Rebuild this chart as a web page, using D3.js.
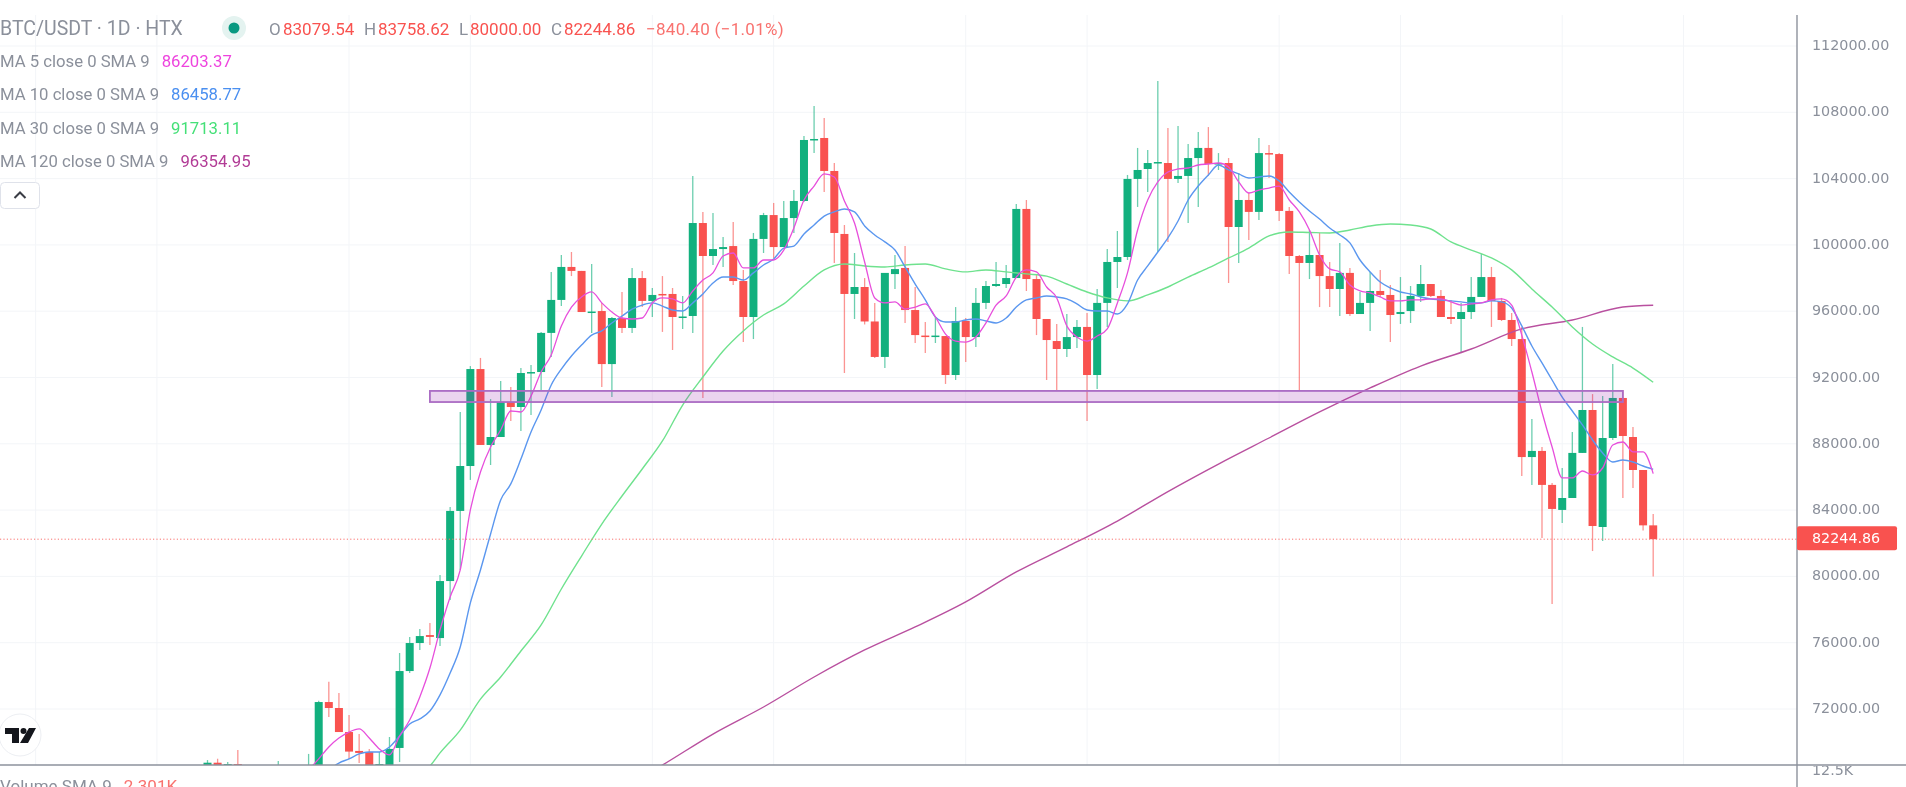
<!DOCTYPE html>
<html>
<head>
<meta charset="utf-8">
<title>BTC/USDT 1D</title>
<script src="https://cdn.jsdelivr.net/npm/d3@7/dist/d3.min.js"></script>
<style>
html, body { margin: 0; padding: 0; background: #fff; overflow: hidden; }
svg { display: block; filter: blur(0.6px); }
text { font-family: Roboto, sans-serif; }
.priceAxis text { font-family: "DejaVu Sans", sans-serif; font-size: 14.3px; fill: #8b909b; }
</style>
</head>
<body>
<div id="chart"></div>
<script>
// daily candles (the first few sit below the pane floor)
var opens = [
    68400,68760,68400,68680,67900,67900,67900,68100,67900,68000,
    68200,68550,72420,72060,70610,69470,69410,68400,68500,69650,
    74290,75980,76460,76280,79720,83950,86660,92510,87930,88410,
    90520,90220,92270,92330,94690,96680,98670,98430,95950,96010,
    92810,95590,94990,98000,96620,97040,97040,95650,95710,101320,
    99330,99750,99930,97820,95650,100360,101800,99870,101620,102650,
    106330,106450,104460,100660,97040,97460,95380,93240,98240,98610,
    96070,94530,94470,94500,92150,95410,94440,96500,97520,97640,
    98000,102170,97940,95530,94200,93720,94440,95050,92150,96500,
    98970,99270,103980,104580,104940,104940,103980,104160,105240,105850,
    104880,104940,101080,102710,101990,105540,105480,102050,99330,98910,
    99390,98120,97340,98310,95830,96500,97220,96980,95830,96010,
    96920,97640,96920,95650,95530,95950,96860,98060,96620,95470,
    94320,87200,87570,85520,84010,84730,87450,90040,82980,88350,
    90765,88410,86420,83079.54];
var closes = [
    68760,68400,68680,68400,67800,67800,67800,68400,68000,68100,
    68500,72420,72060,70610,69430,69350,68400,68680,69590,74290,
    75980,76400,76350,79720,83950,86660,92510,87930,88410,90520,
    90220,92270,92330,94690,96680,98670,98430,95950,95980,92810,
    95590,94990,98000,96620,96980,97000,95650,95680,101320,99330,
    99750,99870,97820,95650,100360,101800,99870,101620,102650,106330,
    106390,104460,100720,97040,97460,95380,93240,98310,98540,96070,
    94560,94470,94530,92150,95410,94440,96500,97520,97640,98000,
    102170,97940,95530,94260,93720,94440,95050,92150,96500,98970,
    99270,103980,104520,104940,105000,103980,104160,105240,105850,104880,
    104940,101080,102710,101990,105540,105480,102050,99330,98910,99390,
    98120,97340,98310,95830,96500,97220,96980,95770,95950,96920,
    97640,96920,95650,95530,95950,96860,98060,96620,95470,94320,
    87200,87570,85520,84070,84730,87450,90040,83040,88350,90765,
    88470,86420,83079.54,82244.86];
var highs = [
    68920,69000,68800,69530,68000,68000,68000,68860,68100,68200,
    69290,72500,73650,72970,71640,70490,69590,69410,70310,75380,
    76350,76830,77190,80090,84190,89920,92690,93180,90700,91790,
    91430,92570,92750,94750,98370,99390,99570,98430,98850,96500,
    95650,97160,98610,98430,97400,98120,97400,96920,104160,101990,
    101930,100480,101380,98490,100720,101930,102530,102650,103310,106570,
    108380,107660,104940,101200,99510,98000,96500,98310,99390,99930,
    97460,95350,95650,94500,96250,95590,97400,97820,98970,98790,
    102470,102710,98180,95530,95230,95830,95470,95890,97340,99750,
    100840,104220,105850,105730,109890,107050,107170,106090,106810,107110,
    105540,105240,104340,103130,106450,106030,105540,102290,99390,100900,
    100720,98970,100120,98610,97160,98370,98490,97580,98060,97520,
    98790,97640,97280,96670,96500,98060,99450,98670,96800,95890,
    95050,89500,87810,85640,86540,88710,95050,91000,90885,92815,
    91250,89010,86420,83758.62];
var lows = [
    68100,68200,68200,68200,67700,67700,67700,67900,67800,67900,
    68000,68400,71520,70610,68980,68740,68200,68200,68400,68800,
    74170,75560,75860,75800,78580,80390,85820,87930,86720,88410,
    89380,88770,89740,91250,93240,96310,98120,95950,94690,91430,
    90820,94690,94690,96250,95650,94750,93660,94930,94690,90760,
    98790,98670,97580,94140,94320,99510,99210,99870,100720,102590,
    105540,103190,98910,92270,95530,95200,93180,92570,97340,95290,
    94080,93480,94080,91610,91850,92940,93840,96130,97460,97400,
    98000,97220,94560,91850,91250,93240,93780,89380,91310,95050,
    97400,99090,102290,103190,99570,100180,103730,101320,102290,104160,
    104520,97700,98910,100300,101500,104040,101440,98240,91190,97940,
    96250,96250,95710,95710,95830,94810,96860,94140,95230,95290,
    96560,96860,95650,95230,93480,95530,96860,95050,95410,93900,
    86060,85520,82320,78340,83220,84730,87450,81530,82140,88230,
    84730,85335,82775,80000];

// moving averages: one value per candle from the start index on
var ma5Start = 10;
var ma5 = [
    68320,68990,69710,70250,70610,70800,70250,69590,69230,70370,
    71340,72730,74470,76770,78760,80390,84010,86300,87810,88830,
    89980,89920,90880,92330,93360,95110,96250,96860,97160,96500,
    95950,95590,95530,95590,96500,96800,96740,96500,97220,97880,
    98310,99330,99510,98610,98610,99090,99090,99690,101020,102710,
    103550,104280,104100,102650,101320,98970,96800,96500,96560,96130,
    96250,96440,95650,94620,94200,94140,94440,95290,96370,96920,
    98060,98490,98370,97460,96800,95110,94440,94200,94500,94930,
    96500,98310,100900,102710,103800,104400,104580,104640,104820,104880,
    104940,104700,103800,103130,103310,103430,103550,102710,101990,100900,
    99390,98550,98370,97580,97220,97100,96860,96620,96620,96680,
    96680,96740,96740,96560,96370,96440,96500,96680,96740,96370,
    94560,92330,89920,87810,85940,85940,86360,86120,86540,87930,
    88110,87510,87510,86203.37];
var ma10Start = 12;
var ma10 = [
    68320,68740,68990,69290,69410,69410,69710,70370,71100,71400,
    71880,72850,74170,75740,78400,80390,82560,84610,85580,87080,
    88710,90040,91550,92510,93300,93960,94560,94810,95290,95710,
    96130,96370,96500,96310,96070,96010,96500,97040,97700,98060,
    98060,97880,98310,98790,99150,99810,99930,100660,101200,101740,
    101990,102170,101990,101140,100600,100180,99690,98670,97640,96680,
    95650,95350,95350,95470,95530,95410,95290,95590,96250,96680,
    96800,96920,96860,96740,96440,96070,96010,96010,95830,96440,
    97880,98730,99570,100420,101440,102710,103550,104220,104820,104520,
    104280,104040,104100,104160,103860,103190,102590,102050,101560,101020,
    100600,100120,99090,98370,97760,97400,97160,97040,96860,96740,
    96680,96620,96560,96500,96500,96620,96560,96190,95110,93900,
    92880,91850,90820,89980,89140,88230,87450,86900,87020,86900,
    86660,86458.77];
var ma30Idx = [21,22,23,25,27,29,31,33,35,37,39,41,43,45,47,49,51,53,55,57,59,61,63,65,67,69,71,73,75,77,79,81,83,85,87,89,91,93,95,97,99,101,103,105,107,109,111,113,115,117,119,121,123,125,127,129,131,133,135,137,139,141,143];
var ma30 = [
    68020,68560,69350,70730,72600,73930,75500,77070,79240,81230,
    83160,84850,86480,88170,90340,92030,93600,94810,95770,96440,
    97520,98490,98850,98730,98670,98790,98850,98550,98370,98490,
    98370,98250,98120,97640,97160,96800,96620,96980,97460,98060,
    98610,99210,99810,100540,100780,100750,100720,100900,101140,101260,
    101200,100960,100180,99690,99210,98490,97340,96250,95050,94020,
    93240,92570,91713.11];
var ma120Idx = [44,45,50,55,60,65,70,75,80,85,90,95,100,105,110,115,120,125,130,135,140,143];
var ma120 = [
    68260,68620,70490,72120,73930,75560,76950,78460,80270,81780,
    83340,85120,86780,88350,89920,91370,92690,93720,94930,95470,
    96250,96354.95];

var priceTicks = [112000,108000,104000,100000,96000,92000,88000,84000,80000,76000,72000];
var gridDays = [-17,-5,14,26,44,56,75,87,106,118,134,146];
var zoneLow = 90520, zoneHigh = 91190, zoneFrom = 22, zoneTo = 140;
var lastPrice = 82244.86;

var legendRows = [
    {label: "MA 5 close 0 SMA 9", value: "86203.37", color: "#ee44de"},
    {label: "MA 10 close 0 SMA 9", value: "86458.77", color: "#4a8ff0"},
    {label: "MA 30 close 0 SMA 9", value: "91713.11", color: "#45e078"},
    {label: "MA 120 close 0 SMA 9", value: "96354.95", color: "#b23c96"}
];
var ohlcParts = [
    {t: "O", x: 269, c: "#8b909b"}, {t: "83079.54", x: 283, c: "#f9524f"},
    {t: "H", x: 364, c: "#8b909b"}, {t: "83758.62", x: 378, c: "#f9524f"},
    {t: "L", x: 459, c: "#8b909b"}, {t: "80000.00", x: 470, c: "#f9524f"},
    {t: "C", x: 551, c: "#8b909b"}, {t: "82244.86", x: 564, c: "#f9524f"},
    {t: "\u2212840.40 (\u22121.01%)", x: 646, c: "#f9726f"}
];

var width = 1906, height = 787, axisX = 1797, paneTop = 15, paneBottom = 765;
var up = "#12b07e", down = "#f9524f";

var x = d3.scaleLinear().domain([0, 143]).range([207.5, 1653.2]);
var y = d3.scaleLinear().domain([112000, 72000]).range([46, 709]);

var svg = d3.select("#chart").append("svg").attr("width", width).attr("height", height);

var defs = svg.append("defs");
defs.append("clipPath").attr("id", "pane").append("rect")
    .attr("x", 0).attr("y", paneTop).attr("width", axisX).attr("height", paneBottom - paneTop);
defs.append("clipPath").attr("id", "volAxis").append("rect")
    .attr("x", axisX).attr("y", paneBottom + 1).attr("width", width - axisX).attr("height", height - paneBottom);

// Grid
var grid = svg.append("g").attr("clip-path", "url(#pane)");
grid.selectAll(".hgrid").data(priceTicks).enter().append("line")
    .attr("x1", 0).attr("x2", axisX)
    .attr("y1", d => y(d)).attr("y2", d => y(d))
    .attr("stroke", "#f3f5f8");
grid.selectAll(".vgrid").data(gridDays).enter().append("line")
    .attr("x1", d => x(d)).attr("x2", d => x(d))
    .attr("y1", paneTop).attr("y2", paneBottom)
    .attr("stroke", "#f3f5f8");

var plot = svg.append("g").attr("clip-path", "url(#pane)");

// Candles
var candles = d3.range(opens.length).map(i => ({i: i, o: opens[i], h: highs[i], l: lows[i], c: closes[i]}));
var color = d => d.c >= d.o ? up : down;

plot.selectAll(".wick").data(candles).enter().append("line")
    .attr("x1", d => x(d.i)).attr("x2", d => x(d.i))
    .attr("y1", d => y(d.h)).attr("y2", d => y(d.l))
    .attr("stroke", color).attr("stroke-width", 1.3).attr("stroke-opacity", 0.62);

plot.selectAll(".body").data(candles).enter().append("rect")
    .attr("x", d => x(d.i) - 4)
    .attr("width", 8)
    .attr("y", d => y(Math.max(d.o, d.c)))
    .attr("height", d => Math.max(1.5, Math.abs(y(d.o) - y(d.c))))
    .attr("fill", color);

// Moving average lines
var line = d3.line().x(d => x(d[0])).y(d => y(d[1])).curve(d3.curveMonotoneX);
function drawMa(idx, values, stroke, sw) {
    plot.append("path")
        .datum(values.map((v, k) => [idx[k], v]))
        .attr("fill", "none").attr("stroke", stroke).attr("stroke-width", sw)
        .attr("d", line);
}
drawMa(ma120Idx, ma120, "#b9509f", 1.4);
drawMa(ma30Idx, ma30, "#6fe28e", 1.4);
drawMa(d3.range(ma10.length).map(k => ma10Start + k), ma10, "#5b97ef", 1.4);
drawMa(d3.range(ma5.length).map(k => ma5Start + k), ma5, "#e74fdc", 1.3);

// Support zone
plot.append("rect")
    .attr("x", x(zoneFrom)).attr("width", x(zoneTo) - x(zoneFrom))
    .attr("y", y(zoneHigh)).attr("height", y(zoneLow) - y(zoneHigh))
    .attr("fill", "#9c27b0").attr("fill-opacity", 0.2)
    .attr("stroke", "#ab6cc4").attr("stroke-width", 1.8);

// Last price line
svg.append("line")
    .attr("x1", 0).attr("x2", axisX)
    .attr("y1", y(lastPrice)).attr("y2", y(lastPrice))
    .attr("stroke", "#f9726f").attr("stroke-width", 1).attr("stroke-dasharray", "1.2,2.2");

// Axis frame
svg.append("line").attr("x1", 0).attr("x2", width).attr("y1", paneBottom).attr("y2", paneBottom)
    .attr("stroke", "#8d929c").attr("stroke-width", 1.4);
svg.append("line").attr("x1", axisX).attr("x2", axisX).attr("y1", paneTop).attr("y2", height)
    .attr("stroke", "#8d929c").attr("stroke-width", 1.4);

// Price axis
var axis = d3.axisRight(y).tickValues(priceTicks).tickSize(0).tickPadding(15).tickFormat(d3.format(".2f"));
svg.append("g").attr("class", "priceAxis").attr("transform", "translate(" + axisX + ",-1)").call(axis)
    .call(g => g.select(".domain").remove());

svg.append("rect").attr("x", axisX).attr("y", y(lastPrice) - 13).attr("width", 100).attr("height", 24)
    .attr("rx", 2).attr("fill", "#f9524f");
svg.append("text").attr("x", axisX + 15).attr("y", y(lastPrice) - 1).attr("dy", "0.35em")
    .style("font-family", "'DejaVu Sans', sans-serif").style("font-size", "14.3px")
    .attr("fill", "#fff").text(d3.format(".2f")(lastPrice));

svg.append("text").attr("x", axisX + 15).attr("y", 775).attr("clip-path", "url(#volAxis)")
    .style("font-family", "'DejaVu Sans', sans-serif").style("font-size", "14.3px")
    .attr("fill", "#8b909b").text("12.5K");

// Header
svg.append("text").attr("x", 0).attr("y", 35).style("font-size", "19.5px").attr("fill", "#8b909b")
    .text("BTC/USDT \u00b7 1D \u00b7 HTX");
svg.append("circle").attr("cx", 234).attr("cy", 28).attr("r", 12).attr("fill", "#e4f3f0");
svg.append("circle").attr("cx", 234).attr("cy", 28).attr("r", 5.5).attr("fill", "#089981");
svg.selectAll(".ohlc").data(ohlcParts).enter().append("text")
    .attr("x", d => d.x).attr("y", 35).attr("fill", d => d.c)
    .style("font-size", "17px").style("letter-spacing", d => d.x === 646 ? "0.3px" : null).text(d => d.t);

// Legend rows
var legendY = d3.scalePoint().domain(legendRows.map(d => d.label)).range([61, 161.5]);
var rows = svg.selectAll(".legendRow").data(legendRows).enter().append("text")
    .attr("x", 0).attr("y", d => legendY(d.label)).attr("dy", "0.35em").style("font-size", "16.7px");
rows.append("tspan").attr("fill", "#8b909b").text(d => d.label);
rows.append("tspan").attr("dx", 12).attr("fill", d => d.color).text(d => d.value);

// Collapse button
svg.append("rect").attr("x", 0.5).attr("y", 182.5).attr("width", 39).attr("height", 26).attr("rx", 4)
    .attr("fill", "#fff").attr("stroke", "#dfe2ea");
svg.append("path").attr("d", "M14.5 198 L20 192.5 L25.5 198").attr("fill", "none")
    .attr("stroke", "#3a3d45").attr("stroke-width", 2);

// TradingView mark
svg.append("circle").attr("cx", 20).attr("cy", 735).attr("r", 21).attr("fill", "#fff").attr("stroke", "#eceef2");
svg.append("path").attr("fill", "#14161c")
    .attr("d", "M5 728 H19 V743 H12 V734 H5 Z M29 728 H36 L28 743 H20 Z");
svg.append("circle").attr("cx", 23.5).attr("cy", 731).attr("r", 3).attr("fill", "#14161c");

// Volume legend, cut by the bottom of the window
var vol = svg.append("text").attr("x", 0).attr("y", 792).style("font-size", "17px");
vol.append("tspan").attr("fill", "#8b909b").text("Volume SMA 9");
vol.append("tspan").attr("dx", 12).attr("fill", "#f9726f").text("2.301K");
</script>
</body>
</html>
